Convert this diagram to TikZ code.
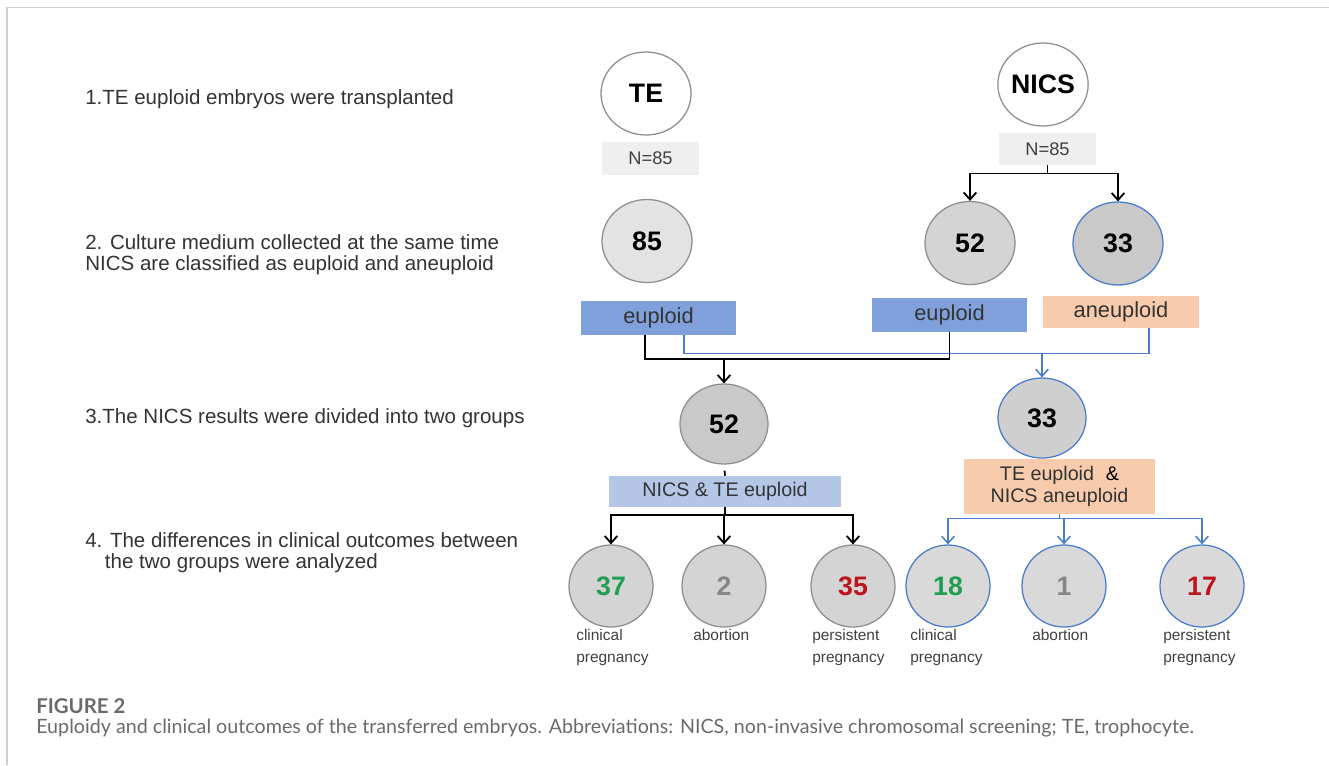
\documentclass[tikz,border=0pt]{standalone}
\usepackage{fontspec}
\setmainfont{Liberation Sans}
\newfontfamily\capfont{Lato}
\usetikzlibrary{shapes.geometric,arrows.meta}
\definecolor{framegray}{HTML}{CFCFCF}
\definecolor{textgray}{HTML}{333333}
\definecolor{circgray}{HTML}{8E8E8E}
\definecolor{lineblue}{RGB}{74,124,201}
\definecolor{eupblue}{RGB}{128,160,220}
\definecolor{paleblue}{HTML}{B4C7E7}
\definecolor{peach}{HTML}{F8CBAD}
\definecolor{nboxgray}{HTML}{EFEFEF}
\definecolor{numgreen}{RGB}{30,160,80}
\definecolor{numred}{RGB}{190,20,30}
\definecolor{numgray}{RGB}{135,135,135}
\definecolor{capgray}{HTML}{6A6A6A}
\tikzset{
 circ/.style={ellipse, draw=circgray, line width=0.9pt, inner sep=0pt,
   minimum width=2.25cm, minimum height=2.075cm,
   font=\fontsize{19}{20}\selectfont\bfseries},
 bluecirc/.style={circ, draw=lineblue},
 outcirc/.style={circ, minimum width=2.1cm, minimum height=2.05cm},
 steptext/.style={anchor=west, inner sep=0pt, text=textgray, align=left,
   font=\fontsize{14.6}{15}\selectfont},
 nbox/.style={rectangle, fill=nboxgray, inner sep=0pt, text=black!75,
   minimum width=2.425cm, minimum height=0.81cm, font=\fontsize{13}{14}\selectfont},
 tag/.style={rectangle, inner sep=0pt, text=black!80, minimum width=3.875cm,
   minimum height=0.85cm, font=\fontsize{15.5}{17}\selectfont},
 grptag/.style={tag, align=center, font=\fontsize{14}{16}\selectfont},
 outlbl/.style={anchor=north west, inner sep=0pt, align=left, text=black!75,
   font=\fontsize{11}{15.5}\selectfont},
 blk/.style={draw=black, line width=1.3pt},
 blu/.style={draw=lineblue, line width=1.1pt},
 arrowed/.style={-{Straight Barb[length=5pt,width=9pt]}},
}

\begin{document}
\begin{tikzpicture}[x=0.025cm,y=-0.025cm]
\useasboundingbox (0,0) rectangle (1329,765);
\draw[framegray, line width=1.2pt] (7,765) -- (7,7.5) -- (1329,7.5);

% steps on the left
\node[steptext] (s1) at (85,99) {1.TE euploid embryos were transplanted};
\node[steptext] (s2) at (85,254.5) {2. Culture medium collected at the same time\\NICS are classified as euploid and aneuploid};
\node[steptext] (s3) at (85,418) {3.The NICS results were divided into two groups};
\node[steptext] (s4) at (85,552.5) {4. The differences in clinical outcomes between\\\hspace*{14pt}the two groups were analyzed};

% row 1
\node[circ, fill=white] (te) at (646,93.5) {TE};
\node[circ, fill=white] (nics) at (1043,84.5) {NICS};
\node[nbox] (ten) at (650.5,158.5) {N=85};
\node[nbox] (nicsn) at (1047.5,149) {N=85};

% row 2
\node[circ, fill=black!11] (te85) at (647,241) {85};
\node[circ, fill=black!17] (n52) at (970,243) {52};
\node[bluecirc, fill=black!21] (n33) at (1118,243.5) {33};
\node[tag, fill=eupblue] (eupte) at (658.5,318) {euploid};
\node[tag, fill=eupblue] (eupnics) at (949.5,314.5) {euploid};
\node[tag, fill=peach, minimum width=3.9cm, minimum height=0.8cm] (aneu) at (1121,312) {aneuploid};

% row 3
\node[circ, fill=black!21, minimum width=2.2cm, minimum height=2.0cm] (g52) at (724,424) {52};
\node[bluecirc, fill=black!19, minimum width=2.2cm, minimum height=2.0cm] (g33) at (1042,418) {33};
\node[grptag, fill=paleblue, minimum width=5.8cm, minimum height=0.775cm] (grpeu) at (725,491.5) {NICS \& TE euploid};
\node[grptag, fill=peach, minimum width=4.775cm, minimum height=1.375cm] (grpan) at (1059.5,486.5) {TE euploid\hspace{0.6em}{\color{black}\&}\\NICS aneuploid};

% row 4
\node[outcirc, fill=black!17, text=numgreen] (o37) at (611,586) {37};
\node[outcirc, fill=black!17, text=numgray] (o2) at (724,586) {2};
\node[outcirc, fill=black!17, text=numred] (o35) at (853,586) {35};
\node[outcirc, draw=lineblue, fill=black!15, text=numgreen] (o18) at (948,586) {18};
\node[outcirc, draw=lineblue, fill=black!15, text=numgray] (o1) at (1064,586) {1};
\node[outcirc, draw=lineblue, fill=black!15, text=numred] (o17) at (1202,586) {17};
\node[outlbl] (l37) at (576,629) {clinical\\pregnancy};
\node[outlbl] (l2) at (693,629) {abortion};
\node[outlbl] (l35) at (812,629) {persistent\\pregnancy};
\node[outlbl] (l18) at (910,629) {clinical\\pregnancy};
\node[outlbl] (l1) at (1032,629) {abortion};
\node[outlbl] (l17) at (1163,629) {persistent\\pregnancy};

% connectors
\draw[blk] (nicsn.south) -- ++(0,8) coordinate (nsplit);
\draw[blk, arrowed] (nsplit) -| (n52.north);
\draw[blk, arrowed] (nsplit) -| (n33.north);

\draw[blu] ([xshift=0.64cm]eupte.south) -- ++(0,18) -| ([xshift=0.7cm]aneu.south);
\coordinate (bluejoin) at (g33.north |- 0,353);
\draw[blu, arrowed] (bluejoin) -- (g33.north);
\draw[blk] ([xshift=-0.34cm]eupte.south) -- ++(0,24) -| (eupnics.south);
\coordinate (blkjoin) at (g52.north |- 0,359);
\draw[blk, arrowed] (blkjoin) -- (g52.north);

\draw[blk, shorten <=0.15cm] (g52.south) -- (grpeu.north);
\draw[blk] (grpeu.south) -- ++(0,8) coordinate (eusplit);
\draw[blk, arrowed] (eusplit) -| (o37.north);
\draw[blk, arrowed] (eusplit) -| (o2.north);
\draw[blk, arrowed] (eusplit) -| (o35.north);
\draw[blu] (grpan.south) -- ++(0,4) coordinate (ansplit);
\draw[blu, arrowed] (ansplit) -| (o18.north);
\draw[blu, arrowed] (ansplit) -| (o1.north);
\draw[blu, arrowed] (ansplit) -| (o17.north);

% caption
\node[anchor=west, inner sep=0pt, text=capgray, font=\capfont\bfseries\fontsize{14.5}{16}\selectfont] (fig) at (36,706) {FIGURE 2};
\node[anchor=west, inner sep=0pt, text=capgray, font=\capfont\fontsize{14}{16}\selectfont] (cap) at (36,728) {Euploidy and clinical outcomes of the transferred embryos. Abbreviations: NICS, non-invasive chromosomal screening; TE, trophocyte.};
\end{tikzpicture}
\end{document}
